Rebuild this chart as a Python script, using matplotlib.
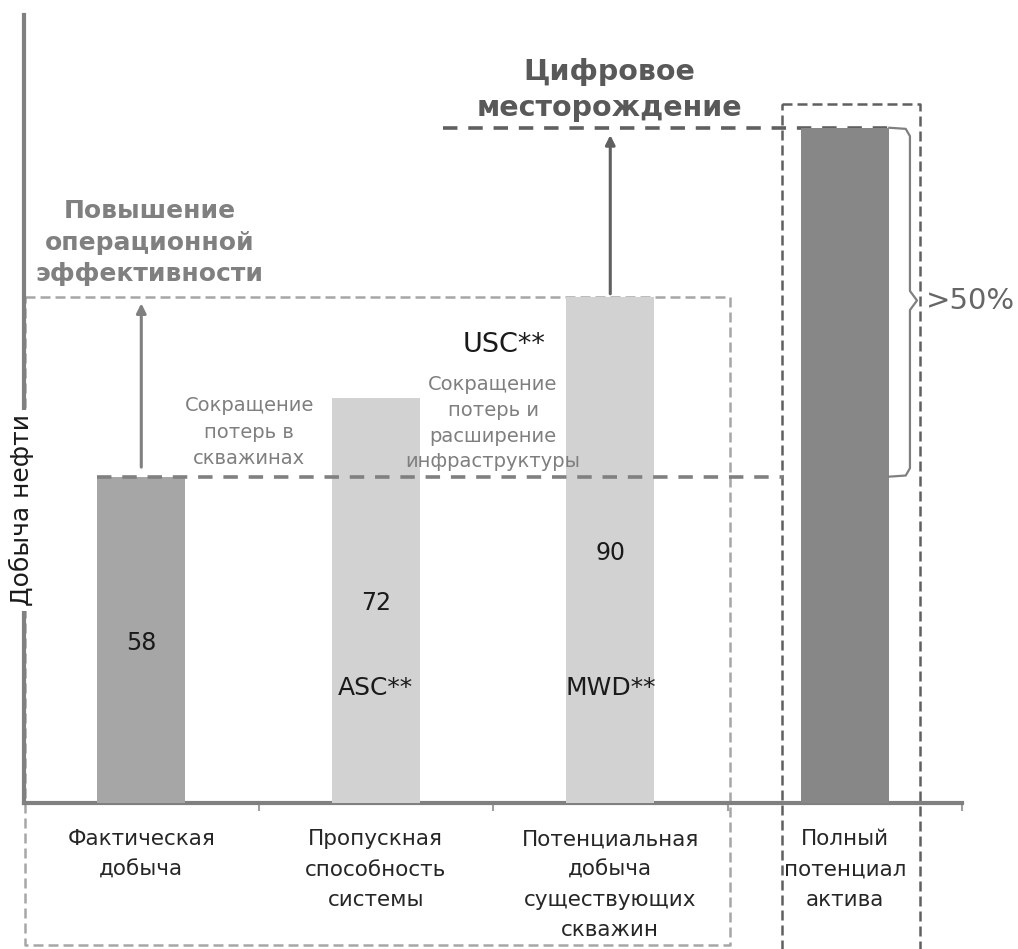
import matplotlib.pyplot as plt
import numpy as np

# bar data
categories = ['Фактическая\nдобыча', 'Пропускная\nспособность\nсистемы',
              'Потенциальная\nдобыча\nсуществующих\nскважин', 'Полный\nпотенциал\nактива']
values = [58, 72, 90, 120]
value_labels = ['58', '72', '90', '']
inner_labels = ['', 'ASC**', 'MWD**', '']
colors = ['#a6a6a6', '#d2d2d2', '#d2d2d2', '#878787']

fig = plt.figure(figsize=(10.18, 9.49), dpi=100)
ax = fig.add_axes([0.0236, 0.1538, 0.9214, 0.8302])

x = np.arange(len(values))
bw = 0.375
ax.bar(x, values, width=bw, color=colors, zorder=3)

ax.set_xlim(-0.5, 3.5)
ax.set_ylim(0, 140)
for s in ['top', 'right']:
    ax.spines[s].set_visible(False)
for s in ['left', 'bottom']:
    ax.spines[s].set_color('#808080')
    ax.spines[s].set_linewidth(3)
ax.set_yticks([])
ax.set_xticks([0.5, 1.5, 2.5, 3.5])
ax.set_xticklabels([])
ax.tick_params(axis='x', length=6, width=1.5, color='#a0a0a0', direction='out')

# category labels under axis
for xi, lab in zip(x, categories):
    ax.text(xi, -4.7, lab, ha='center', va='top', fontsize=15.5, color='#262626',
            linespacing=1.64, clip_on=False)

# values inside bars
for xi, v, lab in zip(x, [28.4, 35.5, 44.4, 0], value_labels):
    if lab:
        ax.text(xi, v, lab, ha='center', va='center', fontsize=17, color='#1a1a1a', zorder=5)
for xi, lab in zip(x, inner_labels):
    if lab:
        ax.text(xi, 20.4, lab, ha='center', va='center', fontsize=18, color='#1a1a1a', zorder=5)

# y label with white background breaking the axis
ax.text(-0.51, 52, 'Добыча нефти', rotation=90, ha='center', va='center', fontsize=18,
        color='#1a1a1a', bbox=dict(facecolor='white', edgecolor='none', pad=3), clip_on=False, zorder=6)

# dashed boxes
ax.plot([-0.496, 2.51, 2.51, -0.496, -0.496], [90, 90, -25.2, -25.2, 90], ls=(0, (4, 2)),
        color='#a6a6a6', lw=1.8, clip_on=False, zorder=2)
ax.plot([2.732, 3.321, 3.321, 2.732, 2.732], [124.2, 124.2, -27, -27, 124.2], ls=(0, (4, 2)),
        color='#606060', lw=1.8, clip_on=False, zorder=2)

# horizontal dashed levels
ax.plot([-0.1875, 2.74], [58, 58], ls=(0, (4, 3)), color='#808080', lw=2.6, zorder=4)
ax.plot([1.287, 3.19], [120, 120], ls=(0, (4, 3)), color='#606060', lw=2.6, zorder=2)

# arrows
ax.annotate('', xy=(0, 89.3), xytext=(0, 59.2),
            arrowprops=dict(arrowstyle='-|>', color='#808080', lw=2.2, mutation_scale=14))
ax.annotate('', xy=(2, 119.2), xytext=(2, 90),
            arrowprops=dict(arrowstyle='-|>', color='#606060', lw=2.2, mutation_scale=14))

# bracket >50%
bx = [3.19, 3.26, 3.278, 3.278, 3.308, 3.278, 3.278, 3.26, 3.19]
by = [120, 119.8, 118.5, 91, 89.3, 87.6, 59.5, 58.2, 58]
ax.plot(bx, by, color='#808080', lw=1.6, clip_on=False, zorder=4)
ax.text(3.345, 89.3, '>50%', ha='left', va='center', fontsize=21,
        color='#666666', clip_on=False)

# annotation texts
ax.text(0.035, 99.6, 'Повышение\nоперационной\nэффективности', ha='center', va='center',
        fontsize=18, fontweight='bold', color='#808080', linespacing=1.4)
ax.text(1.998, 126.7, 'Цифровое\nместорождение', ha='center', va='center',
        fontsize=20.5, fontweight='bold', color='#595959', linespacing=1.4)
ax.text(0.46, 65.9, 'Сокращение\nпотерь в\nскважинах', ha='center', va='center',
        fontsize=14, color='#7f7f7f', linespacing=1.5)
ax.text(1.547, 81.4, 'USC**', ha='center', va='center', fontsize=19.5, color='#1a1a1a')
ax.text(1.5, 67.5, 'Сокращение\nпотерь и\nрасширение\nинфраструктуры', ha='center', va='center',
        fontsize=14, color='#7f7f7f', linespacing=1.45, zorder=5)

fig.savefig('out.png', dpi=100)
